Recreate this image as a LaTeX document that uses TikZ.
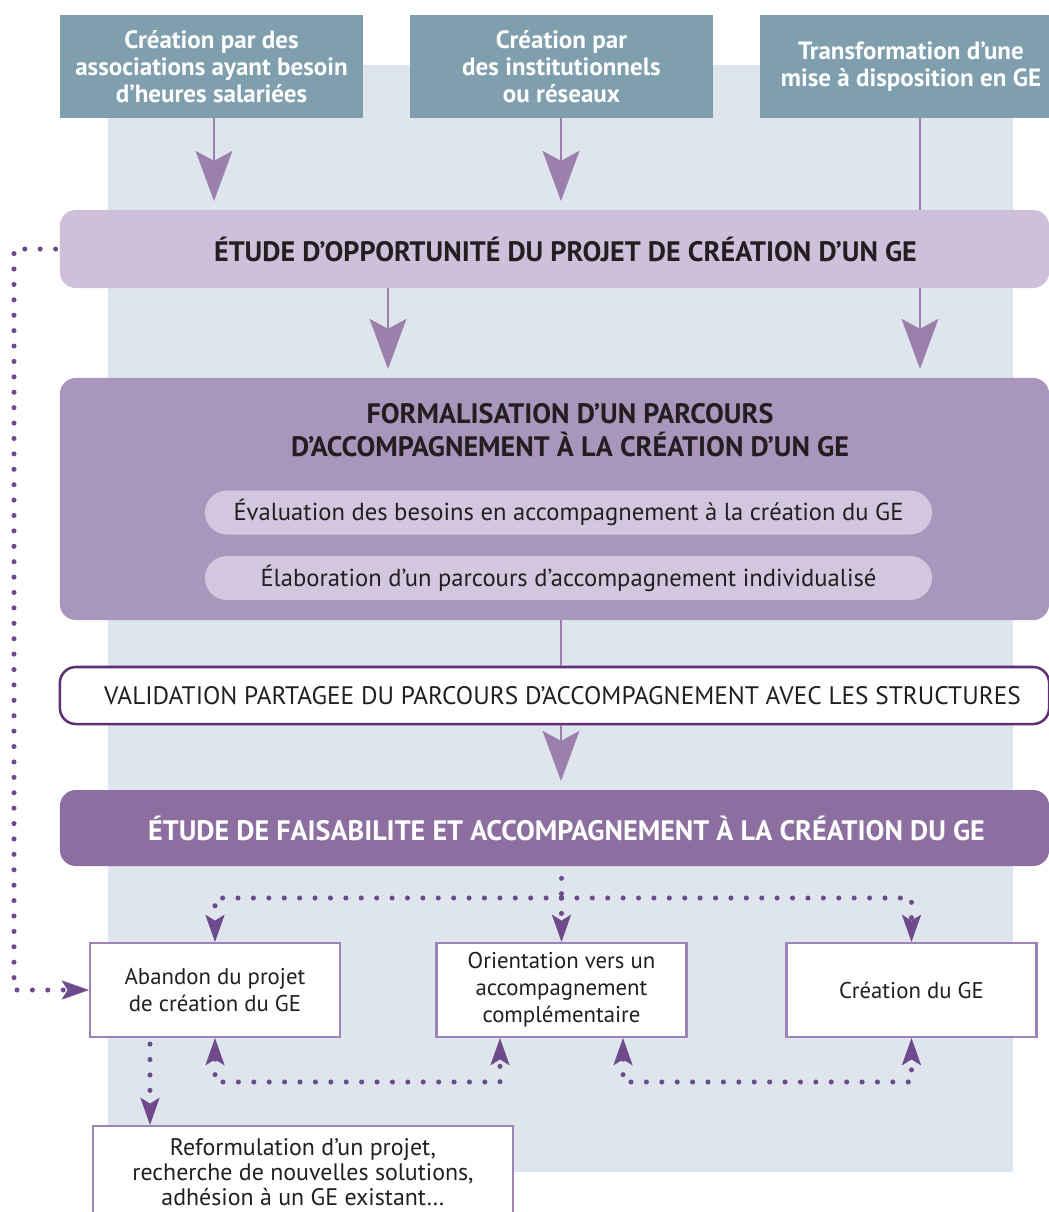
\documentclass[tikz,border=0pt]{standalone}
\usepackage{fontspec}
\setmainfont{PT Sans}
\usepackage{tikz}
\usetikzlibrary{calc,positioning,arrows.meta}

\definecolor{srcblue}{HTML}{7F9EAE}
\definecolor{bggrey}{HTML}{DEE5EC}
\definecolor{opplilac}{HTML}{CEC0DA}
\definecolor{formlilac}{HTML}{A996BC}
\definecolor{pilllilac}{HTML}{D3C6DF}
\definecolor{faispurple}{HTML}{8C6FA0}
\definecolor{arrowlilac}{HTML}{9B80AE}
\definecolor{dotpurple}{HTML}{6E4A8C}
\definecolor{boxborder}{HTML}{9C84B8}
\definecolor{valborder}{HTML}{5E2F72}
\definecolor{darktext}{HTML}{231F20}

\tikzstyle{source}   = [rectangle, fill=srcblue, text=white, inner sep=0pt, minimum width=7.55cm, minimum height=2.575cm, align=center, font=\bfseries\fontsize{17.8}{19}\selectfont]
\tikzstyle{band}     = [rectangle, rounded corners=0.4cm, minimum width=24.725cm, inner sep=0pt, align=center]
\tikzstyle{pill}     = [rectangle, rounded corners=0.55cm, fill=pilllilac, minimum width=18.175cm, minimum height=1.1cm, inner sep=0pt, text=darktext, font=\fontsize{17.5}{20}\selectfont]
\tikzstyle{outcome}  = [rectangle, draw=boxborder, line width=1.6pt, fill=white, minimum width=6.25cm, minimum height=2.35cm, inner sep=0pt, align=center, text=darktext, font=\fontsize{16.2}{19.2}\selectfont]
\tikzstyle{arrow}    = [line width=1.4pt, draw=arrowlilac, shorten >=0.22cm, -{Stealth[length=1.25cm, width=0.92cm, inset=0.25cm, line width=0.2pt]}]
\tikzstyle{link}     = [line width=1.4pt, draw=arrowlilac]
\tikzstyle{dotline}  = [draw=dotpurple, line width=3.6pt, line cap=round, dash pattern=on 0pt off 0.385cm]
\tikzstyle{dotarrow} = [dotline, -{Stealth[length=0.68cm, width=0.48cm, inset=0.15cm, line width=0.3pt]}]
\tikzstyle{dotboth}  = [dotline, {Stealth[length=0.68cm, width=0.48cm, inset=0.15cm, line width=0.3pt]}-{Stealth[length=0.68cm, width=0.48cm, inset=0.15cm, line width=0.3pt]}]

\begin{document}
\begin{tikzpicture}[x=0.025cm, y=-0.025cm]
		\useasboundingbox (0,0) rectangle (1049,1212);
		\fill[bggrey] (108,65) rectangle (1013,1172);

		% entry points
		\node[source] (src1) at (211.5,66.5) {Création par des\\associations ayant besoin\\d’heures salariées};
		\node[source] (src2) at (561.5,66.5) {Création par\\des institutionnels\\ou réseaux};
		\node[source] (src3) at (911,66.5) {Transformation d’une\\mise à disposition en GE};

		\node[band, fill=opplilac, minimum height=1.95cm, text=darktext, font=\bfseries\fontsize{20}{22}\selectfont] (opp) at (554.5,249) {\hspace*{0.55cm}ÉTUDE D’OPPORTUNITÉ DU PROJET DE CRÉATION D’UN GE};

		\node[band, fill=formlilac, minimum height=6.05cm] (form) at (554.5,499) {};
		\node[text=darktext, align=center, font=\bfseries\fontsize{20}{23.5}\selectfont] (formtitle) at (570,430) {FORMALISATION D’UN PARCOURS\\D’ACCOMPAGNEMENT À LA CRÉATION D’UN GE};
		\node[pill] (need) at (568.5,512.5) {Évaluation des besoins en accompagnement à la création du GE};
		\node[pill] (path) at (568.5,578) {Élaboration d’un parcours d’accompagnement individualisé};

		\node[band, draw=valborder, line width=1.8pt, fill=white, minimum height=1.425cm, text=darktext, font=\fontsize{18}{20}\selectfont] (val) at (554.5,695.5) {\hspace*{0.4cm}VALIDATION PARTAGEE DU PARCOURS D’ACCOMPAGNEMENT AVEC LES STRUCTURES};

		\node[band, fill=faispurple, minimum height=1.9cm, text=white, font=\bfseries\fontsize{20}{22}\selectfont] (faisab) at (554.5,828) {\hspace*{0.6cm}ÉTUDE DE FAISABILITE ET ACCOMPAGNEMENT À LA CRÉATION DU GE};

		% outcomes
		\node[outcome] (aband) at (215,990) {Abandon du projet\\de création du GE};
		\node[outcome] (orient) at (561.5,990) {Orientation vers un\\accompagnement\\complémentaire};
		\node[outcome] (creat) at (911.5,990) {Création du GE};
		\node[outcome, minimum width=10.5cm, minimum height=2.3cm, font=\fontsize{17}{18}\selectfont] (reform) at (303,1172) {Reformulation d’un projet,\\recherche de nouvelles solutions,\\adhésion à un GE existant…};

		% solid arrows
		\coordinate (a1) at (214,0);
		\coordinate (a3) at (920,0);
		\coordinate (a4) at (388,0);
		\coordinate (mid) at (561,0);
		\draw[arrow] (src1.south -| a1) -- (opp.north -| a1);
		\draw[arrow] (src2.south -| mid) -- (opp.north -| mid);
		\draw[link] (src3.south -| a3) -- (opp.north -| a3);
		\draw[arrow] (opp.south -| a4) -- (form.north -| a4);
		\draw[arrow] (opp.south -| a3) -- (form.north -| a3);
		\draw[link] (form.south -| mid) -- (val.north -| mid);
		\draw[arrow] (val.south -| mid) -- (faisab.north -| mid);

		% dotted arrows
		\coordinate (fork) at (561.5,898);
		\coordinate (low) at (0,1082);
		\coordinate (b2) at (500,0);
		\coordinate (b3) at (623,0);
		\coordinate (lft) at (14,0);
		\coordinate (rx) at (150,0);
		\draw[dotline, shorten <=0.3cm] (faisab.south -| fork) -- (fork);
		\draw[dotarrow] (fork) -| (aband.north);
		\draw[dotarrow] (fork) -- (orient.north);
		\draw[dotarrow] (fork) -| (creat.north);
		\draw[dotboth] (aband.south) -- (aband.south |- low) -- (b2 |- low) -- (orient.south -| b2);
		\draw[dotboth] (orient.south -| b3) -- (b3 |- low) -- (creat.south |- low) -- (creat.south);
		\draw[dotarrow, shorten <=0.1cm] (opp.west) -- (opp.west -| lft) -- (aband.west -| lft) -- (aband.west);
		\draw[dotarrow, shorten <=0.15cm] (aband.south -| rx) -- (reform.north -| rx);
	\end{tikzpicture}
\end{document}
